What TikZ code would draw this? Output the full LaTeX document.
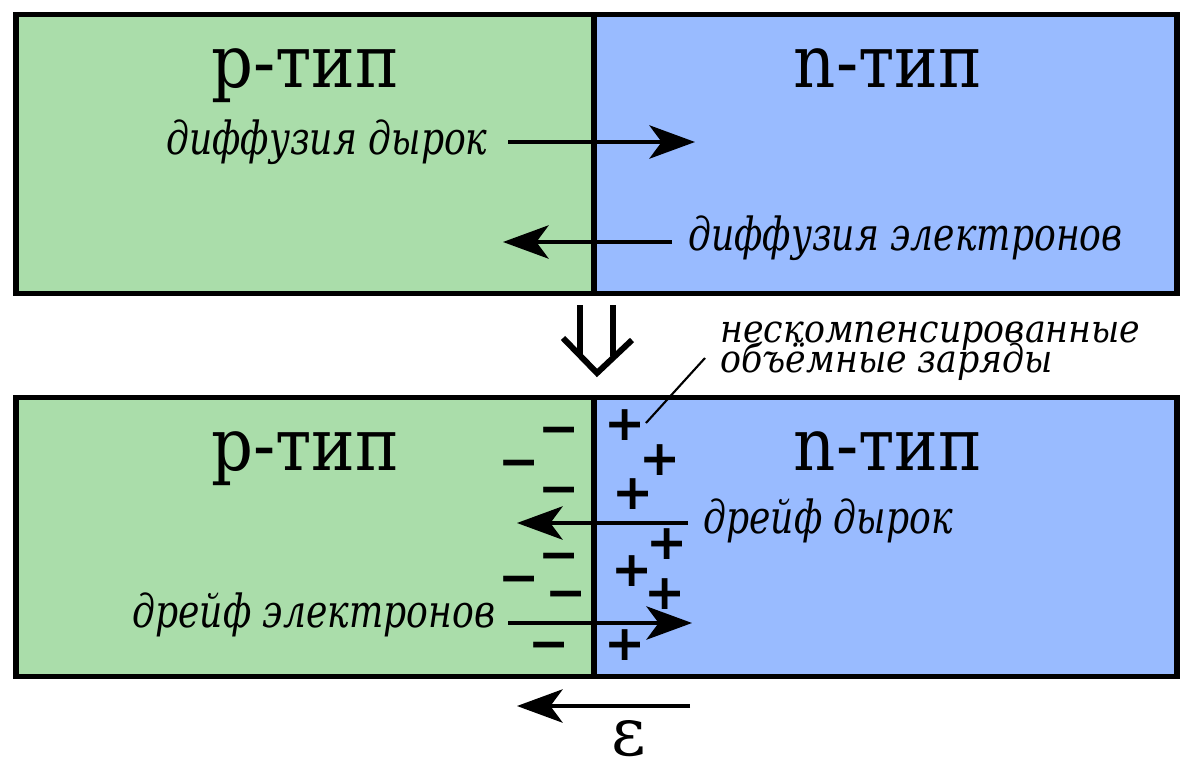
\documentclass[tikz,border=0pt]{standalone}
\usepackage{fontspec}
\setmainfont{DejaVu Serif Condensed}
\newfontfamily\flowfont{DejaVu Serif Condensed}[FakeStretch=0.88]
\newfontfamily\epsfont{DejaVu Serif}
\newfontfamily\signfont{DejaVu Sans}
\newcommand\chargefont{\fontsize{22}{17}\selectfont\itshape\lineskiplimit=-30pt\relax}
\usetikzlibrary{arrows.meta,positioning}
\definecolor{pgreen}{RGB}{170,221,170}
\definecolor{nblue}{RGB}{153,187,255}

\begin{document}
\begin{tikzpicture}[
  x=0.02cm, y=-0.02cm,
  region/.style={line width=3.4pt},
  arr/.style={-{Stealth[length=26pt,width=19pt,inset=7pt]},line width=2pt},
  typelabel/.style={font=\fontsize{41.5}{50}\selectfont,anchor=base,inner sep=0pt},
  flowlabel/.style={font=\flowfont\fontsize{26}{30}\selectfont\itshape,anchor=base west,inner sep=0pt},
  sign/.style={font=\signfont\bfseries\fontsize{28}{28}\selectfont,
               text height=20pt,text depth=0pt,inner sep=0pt},
]
  \useasboundingbox (0,0) rectangle (1200,771);

  % Before contact
  \fill[pgreen] (16,14.5) rectangle (594,293.5);
  \fill[nblue] (594,14.5) rectangle (1177,293.5);
  \draw[region] (16,14.5) rectangle (1177,293.5);
  \draw[region] (594,14.5) -- (594,293.5);

  \node[typelabel] (ptop) at (305,87) {p-тип};
  \node[typelabel] (ntop) at (888,87) {n-тип};

  \node[flowlabel] (hdiff) at (166,154) {диффузия дырок};
  \coordinate (hdiffA) at (508,142);
  \coordinate (hdiffB) at (695,142);
  \draw[arr] (hdiffA) -- (hdiffB);

  \node[flowlabel] (ediff) at (688,250) {диффузия электронов};
  \coordinate (ediffA) at (672,242);
  \coordinate (ediffB) at (503,242);
  \draw[arr] (ediffA) -- (ediffB);

  % Transition
  \draw[line width=3.4pt] (580,305) -- (580,356) (613,305) -- (613,356);
  \draw[line width=3.4pt,miter limit=10] (563,338) -- (597,373) -- (632,340);

  % After contact
  \fill[pgreen] (16,397.5) rectangle (594,676.5);
  \fill[nblue] (594,397.5) rectangle (1177,676.5);
  \draw[region] (16,397.5) rectangle (1177,676.5);
  \draw[region] (594,397.5) -- (594,676.5);

  \node[typelabel] (pbot) at (305,470) {p-тип};
  \node[typelabel] (nbot) at (888,470) {n-тип};

  % Space charges
  \foreach \x/\y [count=\i] in {559/428, 519/461, 559/488, 559/554, 519/577, 566/592, 549/643}
    \node[sign] (m\i) at (\x,\y) {−};
  \foreach \x/\y [count=\i] in {625/423, 660/458, 633/492, 667/542, 632/569, 665/592, 625/643}
    \node[sign] (q\i) at (\x,\y) {+};

  \node[font=\chargefont,anchor=base west,align=left,inner sep=0pt]
    (charge) at (720,372) {нескомпенсированные\\объёмные заряды};
  \coordinate (chargeTip) at (705,358);
  \draw[line width=1.2pt] (q1.east) -- (chargeTip);

  \node[flowlabel] (hdrift) at (703,533) {дрейф дырок};
  \coordinate (hdriftA) at (688,523);
  \coordinate (hdriftB) at (517,523);
  \draw[arr] (hdriftA) -- (hdriftB);

  \node[flowlabel] (edrift) at (132,627) {дрейф электронов};
  \coordinate (edriftA) at (508,623);
  \coordinate (edriftB) at (692,623);
  \draw[arr] (edriftA) -- (edriftB);

  % Field
  \coordinate (fieldA) at (690,706);
  \coordinate (fieldB) at (517,706);
  \draw[arr] (fieldA) -- (fieldB);
  \node[font=\epsfont\fontsize{38}{40}\selectfont,anchor=base,inner sep=0pt] (eps) at (629,755) {ε};
\end{tikzpicture}
\end{document}
